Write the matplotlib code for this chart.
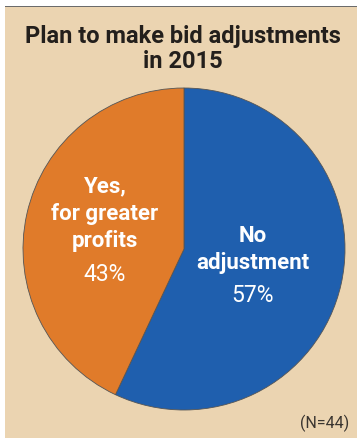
import matplotlib
matplotlib.use("Agg")
import matplotlib.pyplot as plt
from matplotlib.patches import Rectangle

# survey answers
labels = ["No\nadjustment", "Yes,\nfor greater\nprofits"]
shares = [57, 43]
colors = ["#1f5fae", "#e07b2a"]
title = ["Plan to make bid adjustments", "in 2015"]
note = "(N=44)"

W, H = 359, 440
plt.rcParams["font.family"] = ["Roboto", "DejaVu Sans"]
fig = plt.figure(figsize=(W / 100, H / 100), dpi=100, facecolor="white")


def fx(x):
    return x / W


def fy(y):
    return 1 - y / H


# beige panel with a thin grey rule along the top
fig.patches.append(Rectangle((fx(5), fy(438)), fx(352), 431 / H,
                             transform=fig.transFigure, facecolor="#ebd4b1",
                             edgecolor="none", zorder=-2))
fig.patches.append(Rectangle((fx(5), fy(7.5)), fx(352), 1.5 / H,
                             transform=fig.transFigure, facecolor="#6b6b6b",
                             edgecolor="none", zorder=-1))

fig.text(fx(183), fy(43), title[0], ha="center", va="baseline",
         fontsize=17, fontweight="bold", color="#231f1c")
fig.text(fx(183), fy(68), title[1], ha="center", va="baseline",
         fontsize=17, fontweight="bold", color="#231f1c")

# pie centred at (184, 249) px with radius 161 px
cx, cy, r = 184, 249, 161
ax = fig.add_axes([fx(cx - r), fy(cy + r), 2 * r / W, 2 * r / H], zorder=2)
ax.patch.set_visible(False)
ax.pie(shares, colors=colors, startangle=90, counterclock=False,
       wedgeprops=dict(edgecolor="#555555", linewidth=0.6))
ax.set_xlim(-1, 1)
ax.set_ylim(-1, 1)
ax.set_aspect("auto")
ax.axis("off")

# slice labels
txt = dict(ha="center", va="baseline", color="white", zorder=3)
fig.text(fx(253), fy(269), labels[0], fontsize=16, fontweight="bold",
         linespacing=1.3, **txt)
fig.text(fx(253), fy(302), f"{shares[0]}%", fontsize=16.5,
         fontweight="normal", **txt)
fig.text(fx(105), fy(247), labels[1], fontsize=16, fontweight="bold",
         linespacing=1.3, **txt)
fig.text(fx(105), fy(281), f"{shares[1]}%", fontsize=16.5,
         fontweight="normal", **txt)

fig.text(fx(349), fy(428), note, ha="right", va="baseline",
         fontsize=11.5, color="#3a3530")

fig.savefig("out.png", dpi=100, facecolor="white")
